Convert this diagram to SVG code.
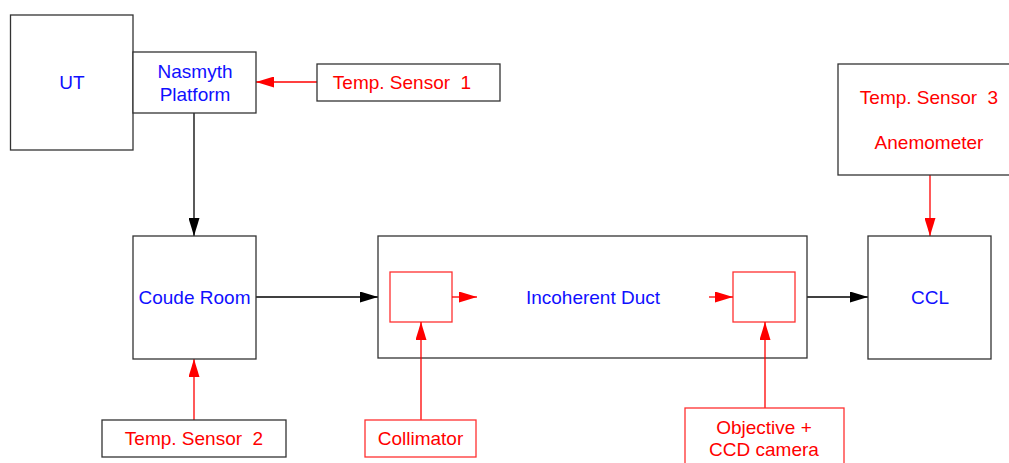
<svg xmlns="http://www.w3.org/2000/svg" width="1009" height="463" viewBox="0 0 1009 463">
<defs>
<style>
.box{fill:#fff;stroke:#333;stroke-width:1.3}
.rbox{fill:#fff;stroke:#ff3030;stroke-width:1.3}
.bt{font-family:"Liberation Sans",Arial,sans-serif;font-size:19px;fill:#1010ff;text-anchor:middle;white-space:pre}
.rt{font-family:"Liberation Sans",Arial,sans-serif;font-size:19px;fill:#ff0000;text-anchor:middle;white-space:pre}
.k{stroke:#000;stroke-width:1.3;fill:none}
.r{stroke:#ff0000;stroke-width:1.3;fill:none}
</style>
<marker id="ak" markerWidth="18" markerHeight="11" refX="18" refY="5.5" orient="auto" markerUnits="userSpaceOnUse"><path d="M0,0 L18,5.5 L0,11 Z" fill="#000"/></marker>
<marker id="ar" markerWidth="18" markerHeight="11" refX="18" refY="5.5" orient="auto" markerUnits="userSpaceOnUse"><path d="M0,0 L18,5.5 L0,11 Z" fill="#ff0000"/></marker>
</defs>
<rect width="1009" height="463" fill="#fff"/>
<g id="connectors">
<line class="r" x1="317" y1="82" x2="256" y2="82" marker-end="url(#ar)"/>
<line class="k" x1="194" y1="113" x2="194" y2="236" marker-end="url(#ak)"/>
<line class="k" x1="256" y1="297" x2="378" y2="297" marker-end="url(#ak)"/>
<line class="k" x1="807" y1="297" x2="868" y2="297" marker-end="url(#ak)"/>
<line class="r" x1="930" y1="175" x2="930" y2="236" marker-end="url(#ar)"/>
<line class="r" x1="194" y1="420" x2="194" y2="359" marker-end="url(#ar)"/>
</g>
<g id="ut"><rect class="box" x="10.5" y="15" width="122.5" height="135"/><text class="bt" x="72" y="89">UT</text></g>
<g id="nasmyth"><rect class="box" x="133" y="52" width="123" height="61"/><text class="bt" x="195" y="78">Nasmyth</text><text class="bt" x="195" y="101">Platform</text></g>
<g id="temp1"><rect class="box" x="317" y="64" width="183" height="37"/><text class="rt" x="402" y="89" xml:space="preserve">Temp. Sensor  1</text></g>
<g id="coude"><rect class="box" x="133" y="236" width="123" height="123"/><text class="bt" x="194.5" y="304">Coude Room</text></g>
<g id="duct"><rect class="box" x="378" y="236" width="429" height="122"/><text class="bt" x="593" y="304">Incoherent Duct</text>
<rect class="rbox" x="390" y="272" width="62" height="50"/>
<rect class="rbox" x="733" y="272" width="62" height="50"/>
<line class="r" x1="452" y1="297" x2="477" y2="297" marker-end="url(#ar)"/>
<line class="r" x1="709" y1="297" x2="733" y2="297" marker-end="url(#ar)"/>
<line class="r" x1="421" y1="420" x2="421" y2="322" marker-end="url(#ar)"/>
<line class="r" x1="765" y1="408" x2="765" y2="322" marker-end="url(#ar)"/>
</g>
<g id="ccl"><rect class="box" x="868" y="236" width="123" height="123"/><text class="bt" x="930" y="304">CCL</text></g>
<g id="temp3"><rect class="box" x="838" y="64" width="180" height="111"/><text class="rt" x="929" y="104" xml:space="preserve">Temp. Sensor  3</text><text class="rt" x="929" y="149">Anemometer</text></g>
<g id="temp2"><rect class="box" x="102" y="420" width="184" height="37"/><text class="rt" x="194" y="445" xml:space="preserve">Temp. Sensor  2</text></g>
<g id="collimator"><rect class="rbox" x="365" y="420" width="111" height="37"/><text class="rt" x="420.5" y="445">Collimator</text></g>
<g id="objective"><rect class="rbox" x="685" y="408" width="159" height="70"/><text class="rt" x="764" y="434">Objective +</text><text class="rt" x="764" y="456">CCD camera</text></g>
</svg>
